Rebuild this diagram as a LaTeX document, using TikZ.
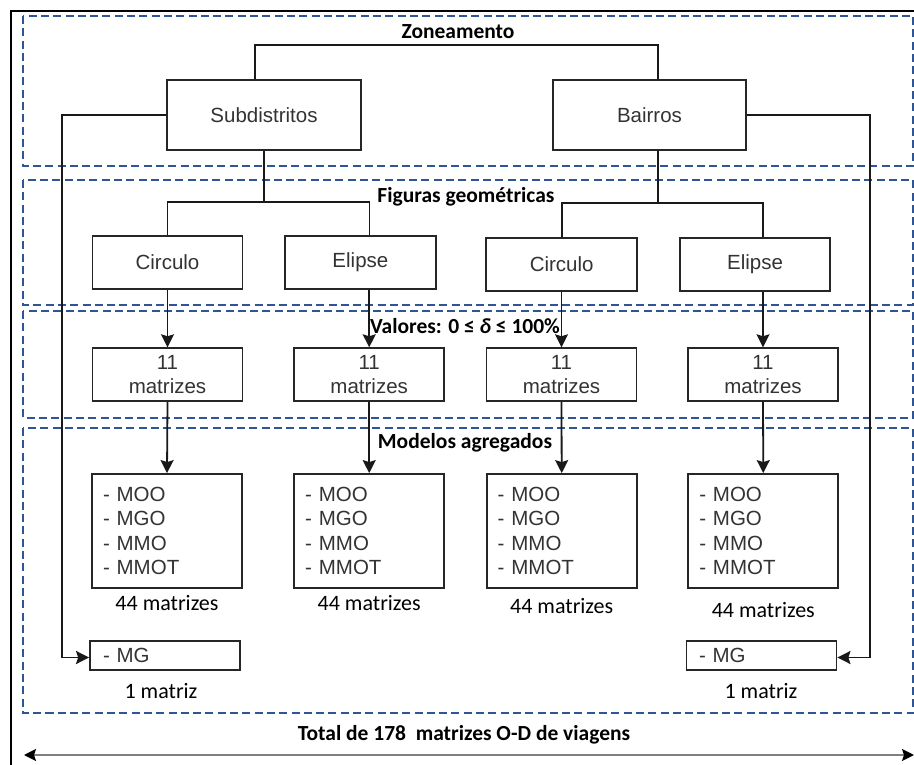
\documentclass[tikz,border=0pt]{standalone}
\usepackage{fontspec}
\setmainfont{Carlito}
\newfontfamily\arialfont{Liberation Sans}
\usetikzlibrary{arrows.meta,positioning}
\definecolor{zoneblue}{HTML}{2F5597}
\definecolor{boxtext}{HTML}{333333}
\definecolor{boxline}{HTML}{262626}
\definecolor{totalgray}{HTML}{7F7F7F}

\begin{document}
\begin{tikzpicture}[
    x=1pt, y=-1pt,
    zone/.style={draw=zoneblue, line width=1.5pt, dash pattern=on 8pt off 4.3pt},
    box/.style={draw=boxline, line width=1.8pt, fill=white, text=boxtext, font=\arialfont\fontsize{20.5}{24.5}\selectfont, minimum width=150pt, minimum height=53pt, align=center, inner sep=0pt},
    subbox/.style={box, minimum width=194pt, minimum height=70pt},
    modelbox/.style={box, align=left, text width=128pt, inner xsep=11pt, minimum height=114pt},
    mgbox/.style={box, align=left, text width=124pt, inner xsep=11pt, minimum height=29pt},
    title/.style={font=\bfseries\fontsize{21.5}{26}\selectfont, inner sep=0pt},
    count/.style={font=\fontsize{22}{26}\selectfont, inner sep=0pt},
    conn/.style={draw=black!90, line width=1.8pt},
    arr/.style={conn, -{Stealth[length=13pt, width=13pt, inset=2pt]}}
]
\useasboundingbox (0,0) rectangle (914,765);

% frame and layers
\draw[line width=1.8pt] (11,775) -- (11,11) -- (920,11);
\draw[zone] (23,16) rectangle (913,166);
\draw[zone] (23,180) rectangle (913,305);
\draw[zone] (23,311) rectangle (913,418);
\draw[zone] (23,428) rectangle (913,713);

\node[title] (tzon) at (458,32) {Zoneamento};
\node[title] (tfig) at (466,197) {Figuras geométricas};
\node[title] (tval) at (465,326) {Valores: 0 ≤ \textit{δ} ≤ 100\%};
\node[title] (tmod) at (465,443) {Modelos agregados};

% zoning
\node[subbox] (sub) at (264,115) {Subdistritos};
\node[subbox, minimum width=193pt] (bai) at (649.5,115) {Bairros};

% shapes
\node[box] (c1) at (167.5,262.5) {Circulo};
\node[box, minimum width=151pt] (e1) at (360.4,262.5) {Elipse};
\node[box, minimum width=151pt] (c2) at (561.7,264.4) {Circulo};
\node[box] (e2) at (755,264.4) {Elipse};

% matrices
\node[box] (b1) at (167.5,374.7) {11\\matrizes};
\node[box] (b2) at (369.2,374.7) {11\\matrizes};
\node[box] (b3) at (561.5,374.7) {11\\matrizes};
\node[box] (b4) at (763,374.7) {11\\matrizes};

% models
\node[modelbox] (m1) at (167,531) {- MOO\\- MGO\\- MMO\\- MMOT};
\node[modelbox] (m2) at (369.2,531) {- MOO\\- MGO\\- MMO\\- MMOT};
\node[modelbox] (m3) at (561.7,531) {- MOO\\- MGO\\- MMO\\- MMOT};
\node[modelbox] (m4) at (763.3,531) {- MOO\\- MGO\\- MMO\\- MMOT};
\node[count, below=6pt of m1] (n1) {44 matrizes};
\node[count, below=6pt of m2] (n2) {44 matrizes};
\node[count, below=9pt of m3] (n3) {44 matrizes};
\node[count, below=13pt of m4] (n4) {44 matrizes};

\node[mgbox] (mg1) at (165,655.5) {- MG};
\node[mgbox, text width=125pt] (mg2) at (761.5,655.5) {- MG};
\node[count] (g1) at (161,691) {1 matriz};
\node[count] (g2) at (761,691) {1 matriz};

% connectors
\coordinate (jz) at (457,45);
\draw[conn] ([xshift=-9pt]sub.north) |- (jz) -| ([xshift=8.5pt]bai.north);
\coordinate (jf1) at (264,201.7);
\coordinate (jf2) at (658,203.3);
\draw[conn] (sub.south) -- (jf1);
\draw[conn] ([xshift=8.5pt]bai.south) -- (jf2);
\draw[conn] (c1.north) |- (jf1) -| ([xshift=9pt]e1.north);
\draw[conn] (c2.north) |- (jf2) -| ([xshift=8pt]e2.north);

\foreach \a/\b in {c1/b1, e1/b2, c2/b3, e2/b4}
  \draw[arr] (\a.south -| \b.north) -- (\b.north);
\foreach \a/\b in {b1/m1, b2/m2, b3/m3, b4/m4}
  \draw[arr] (\a.south) -- (\b.north);

\draw[arr] (sub.west) -- ++(-104.5,0) |- ([yshift=-2pt]mg1.west);
\draw[arr] (bai.east) -- ++(123,0) |- ([yshift=-2pt]mg2.east);

% total
\coordinate (tl) at (24,755);
\coordinate (tr) at (914,755);
\draw[draw=totalgray, line width=1.8pt, {Stealth[length=12pt, width=12pt, inset=2pt, color=black]}-{Stealth[length=12pt, width=12pt, inset=2pt, color=black]}] (tl) -- (tr);
\node[title] (ttot) at (464,735) {Total de 178~ matrizes O-D de viagens};
\end{tikzpicture}
\end{document}
